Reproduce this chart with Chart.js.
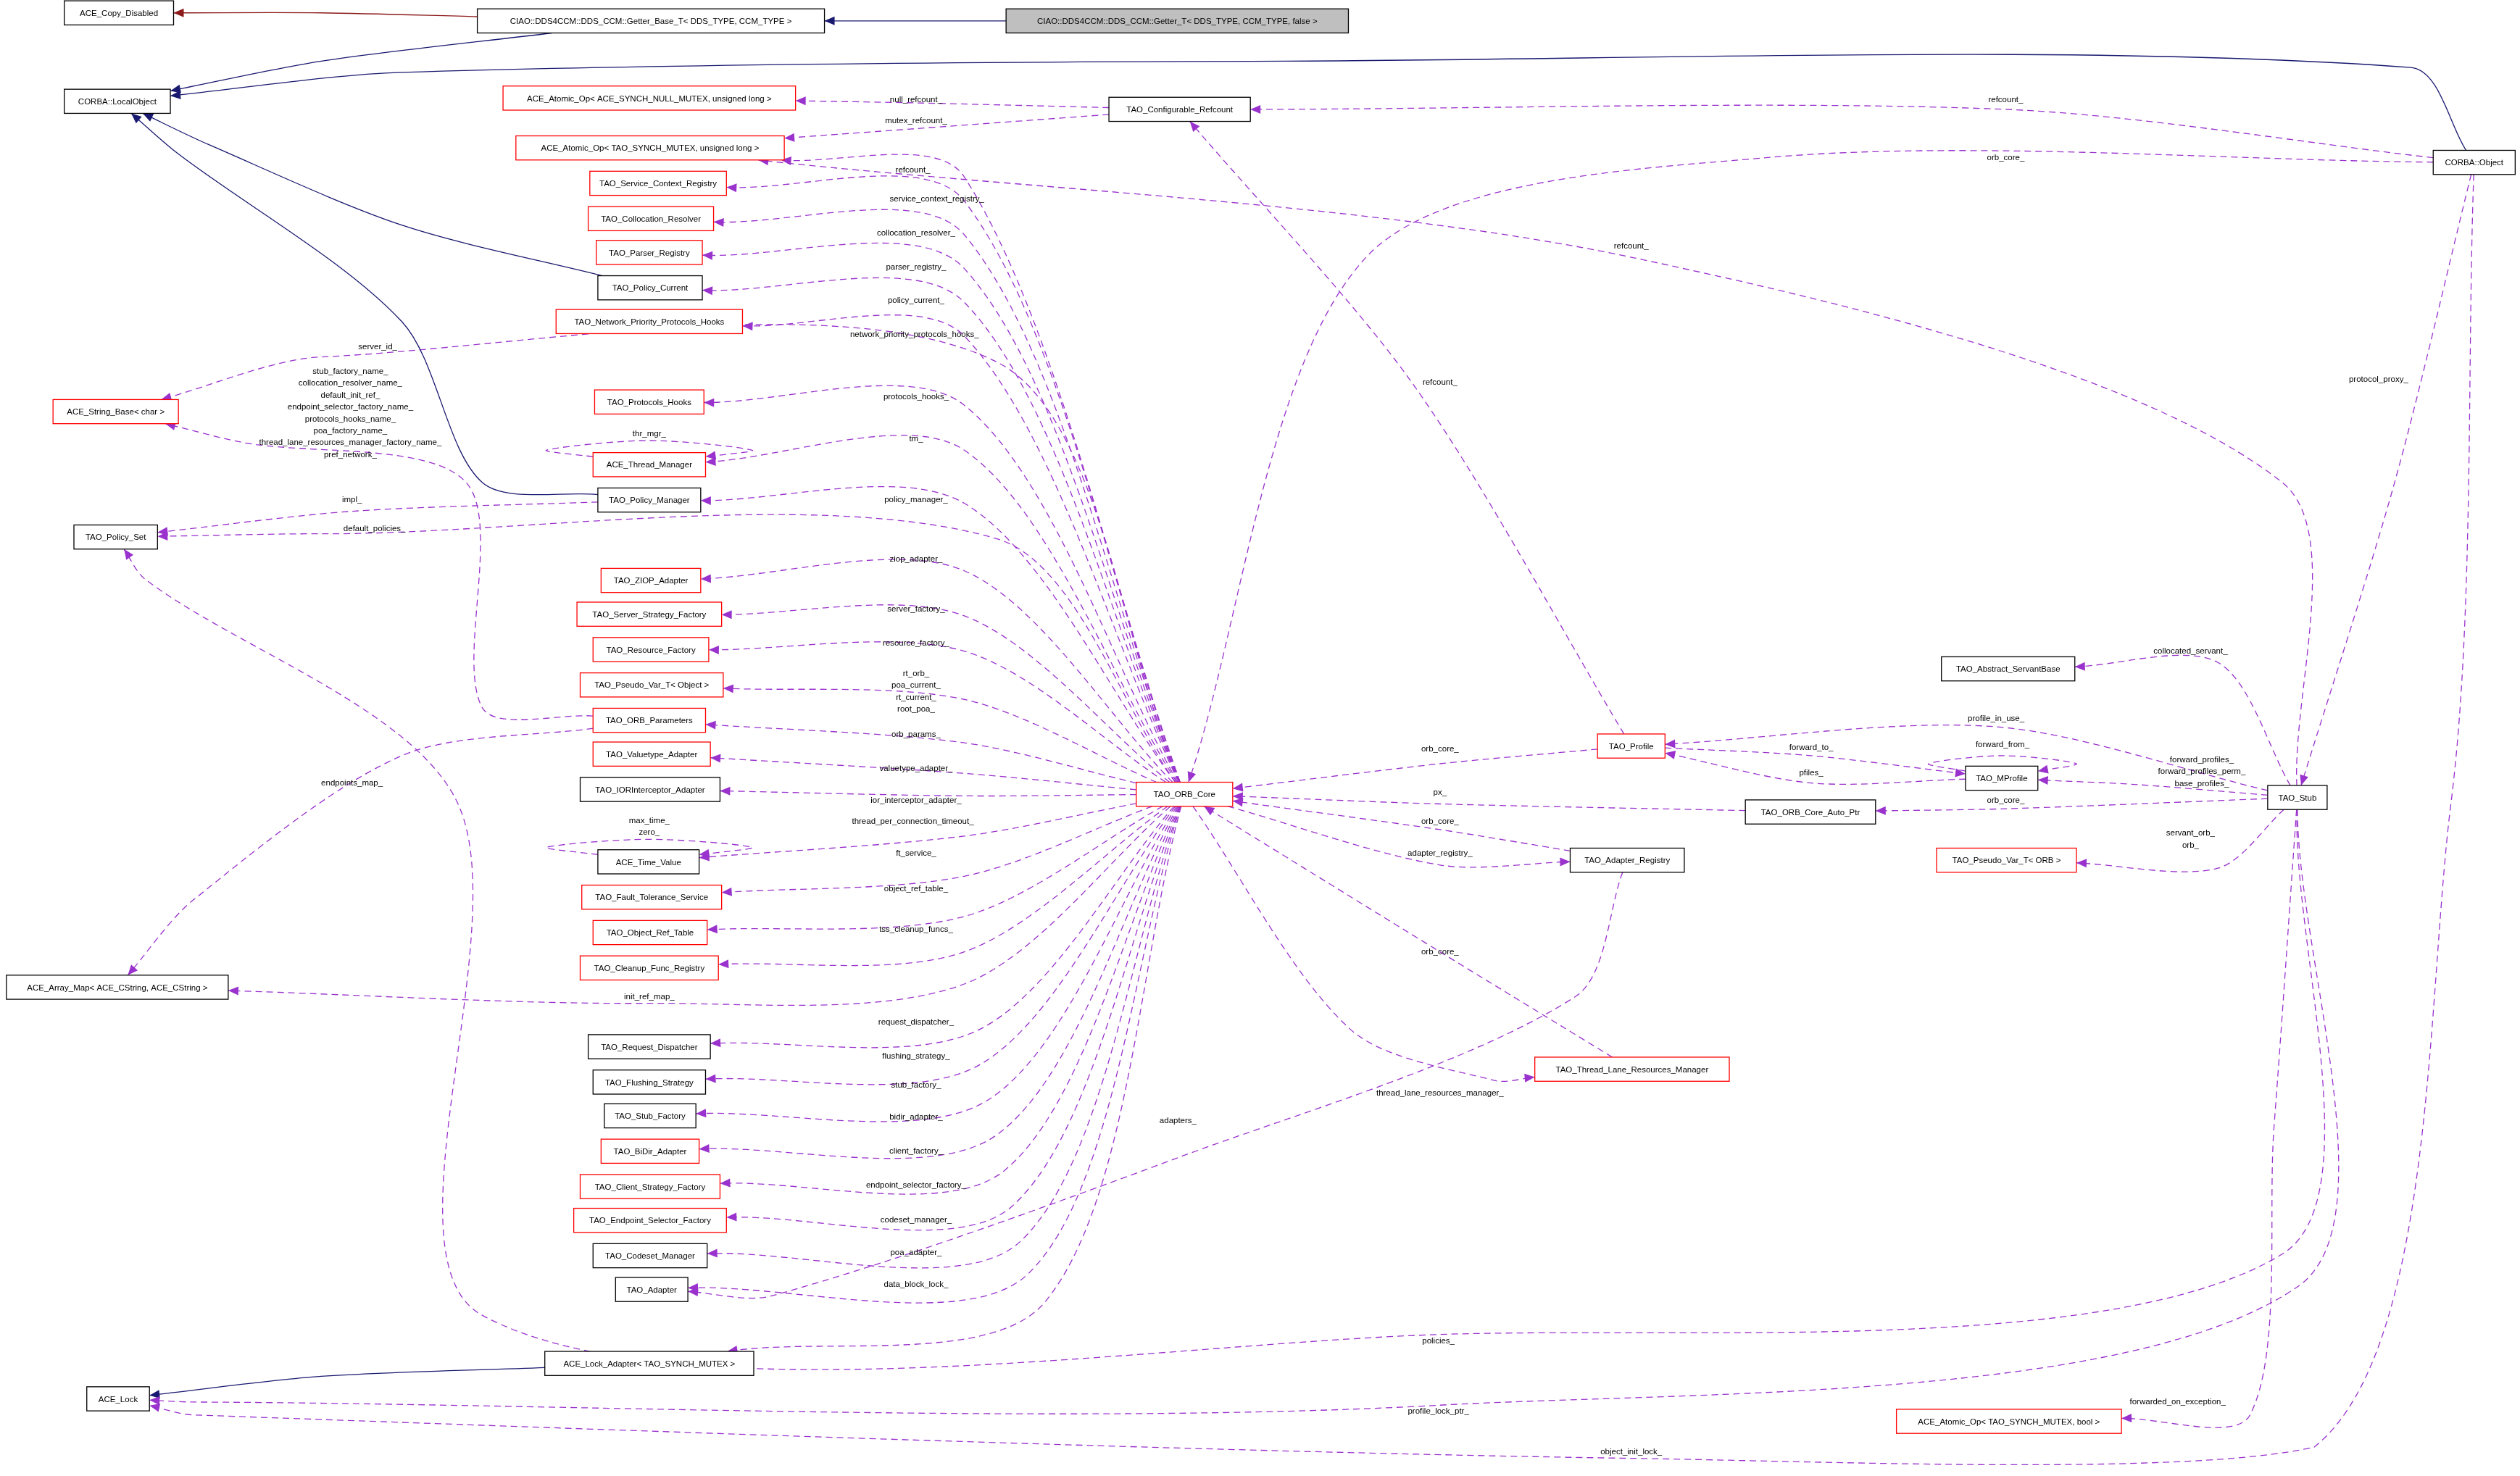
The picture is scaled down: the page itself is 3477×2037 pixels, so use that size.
<!DOCTYPE html>
<html><head><meta charset="utf-8">
<script src="https://cdn.jsdelivr.net/npm/chart.js@4"></script>
<style>html,body{margin:0;padding:0;background:#fff}canvas{display:block}</style>
</head><body>
<canvas id="c" width="3477" height="2037" style="width:3477px;height:2037px"></canvas>
<script>
// ---- nodes ----
const nodeNames = ["ACE_Copy_Disabled","CIAO::DDS4CCM::DDS_CCM::Getter_Base_T< DDS_TYPE, CCM_TYPE >","CIAO::DDS4CCM::DDS_CCM::Getter_T< DDS_TYPE, CCM_TYPE, false >","CORBA::LocalObject","ACE_Atomic_Op< ACE_SYNCH_NULL_MUTEX, unsigned long >","TAO_Configurable_Refcount","ACE_Atomic_Op< TAO_SYNCH_MUTEX, unsigned long >","CORBA::Object","TAO_Service_Context_Registry","TAO_Collocation_Resolver","TAO_Parser_Registry","TAO_Policy_Current","TAO_Network_Priority_Protocols_Hooks","ACE_String_Base< char >","TAO_Protocols_Hooks","ACE_Thread_Manager","TAO_Policy_Manager","TAO_Policy_Set","TAO_ZIOP_Adapter","TAO_Server_Strategy_Factory","TAO_Resource_Factory","TAO_Pseudo_Var_T< Object >","TAO_ORB_Parameters","TAO_Valuetype_Adapter","TAO_IORInterceptor_Adapter","ACE_Time_Value","TAO_Fault_Tolerance_Service","TAO_Object_Ref_Table","TAO_Cleanup_Func_Registry","ACE_Array_Map< ACE_CString, ACE_CString >","TAO_Request_Dispatcher","TAO_Flushing_Strategy","TAO_Stub_Factory","TAO_BiDir_Adapter","TAO_Client_Strategy_Factory","TAO_Endpoint_Selector_Factory","TAO_Codeset_Manager","TAO_Adapter","ACE_Lock","ACE_Lock_Adapter< TAO_SYNCH_MUTEX >","TAO_ORB_Core","TAO_Profile","TAO_MProfile","TAO_Abstract_ServantBase","TAO_Stub","TAO_ORB_Core_Auto_Ptr","TAO_Adapter_Registry","TAO_Pseudo_Var_T< ORB >","TAO_Thread_Lane_Resources_Manager","ACE_Atomic_Op< TAO_SYNCH_MUTEX, bool >"];
const nodeX = [74,405,732.5,73,404,734,404.5,1539.5,409.5,405,404,404.5,404,72,404,404,404,72,405,404,405,405.5,404,405.5,404.5,403.5,405.5,404.5,404,73,404,404,404.5,404.5,404.5,404.5,404.5,405.5,73.5,404,737,1015,1245.5,1249.5,1429.5,1126.5,1012.5,1248.5,1015.5,1250];
const nodeY = [8,13,13,63,61,68,92,101,114,136,157,179,200,256,250,289,311,334,361,382,404,426,448,469,491,536,558,580,602,614,651,673,694,716,738,759,781,802,870,848,494,464,484,416,496,505,535,535,665,884];
const nodeW = [68,216,213,66,182,88,167,51,85,78,66,65,116,78,68,70,64,52,62,90,72,89,70,73,87,63,87,71,86,138,76,70,57,61,87,95,71,45,39,130,60,42,45,83,37,81,71,87,121,140];
const nodeStyle = ["k","k","g","k","r","k","r","k","r","r","r","k","r","r","r","r","k","k","r","r","r","r","r","r","k","k","r","r","r","k","k","k","k","r","r","r","k","k","k","k","r","r","k","k","k","k","k","r","r","r"];

// ---- edges ----  kind: i=inheritance(navy), p=protected(dark red), u=usage(dashed)
const edgeFrom = [], edgeTo = [], edgeKind = [], edgeLabel = [], edgeLX = [], edgeLY = [], edgePath = [];
function E(f,t,k,l,lx,ly,path){edgeFrom.push(f);edgeTo.push(t);edgeKind.push(k);edgeLabel.push(l);edgeLX.push(lx);edgeLY.push(ly);edgePath.push(path);}
const O="TAO_ORB_Core";
E("CIAO::DDS4CCM::DDS_CCM::Getter_T< DDS_TYPE, CCM_TYPE, false >","CIAO::DDS4CCM::DDS_CCM::Getter_Base_T< DDS_TYPE, CCM_TYPE >","i","",0,0,[[570,13]]);
E("CIAO::DDS4CCM::DDS_CCM::Getter_Base_T< DDS_TYPE, CCM_TYPE >","ACE_Copy_Disabled","p","",0,0,[[200,8]]);
E("CIAO::DDS4CCM::DDS_CCM::Getter_Base_T< DDS_TYPE, CCM_TYPE >","CORBA::LocalObject","i","",0,0,[[200,38]]);
E("CORBA::Object","CORBA::LocalObject","i","",0,0,[[1500,42],[800,38],[250,45]]);
E("TAO_Policy_Current","CORBA::LocalObject","i","",0,0,[[250,140],[130,90]]);
E("TAO_Policy_Manager","CORBA::LocalObject","i","",0,0,[[300,300],[250,200],[110,95]]);
E("ACE_Lock_Adapter< TAO_SYNCH_MUTEX >","ACE_Lock","i","",0,0,[[200,856]]);
E("TAO_Configurable_Refcount","ACE_Atomic_Op< ACE_SYNCH_NULL_MUTEX, unsigned long >","u","null_refcount_",570,62,[[570,64]]);
E("TAO_Configurable_Refcount","ACE_Atomic_Op< TAO_SYNCH_MUTEX, unsigned long >","u","mutex_refcount_",570,75,[[570,80]]);
E("CORBA::Object","TAO_Configurable_Refcount","u","refcount_",1248,62,[[1248,68]]);
E("CORBA::Object","TAO_ORB_Core","u","orb_core_",1248,98,[[1100,98],[850,160]]);
E("TAO_Stub","ACE_Atomic_Op< TAO_SYNCH_MUTEX, unsigned long >","u","refcount_",1015,153,[[1420,300],[1015,160]]);
E("TAO_Profile","TAO_Configurable_Refcount","u","refcount_",896,238,[[880,240]]);
E(O,"ACE_Atomic_Op< TAO_SYNCH_MUTEX, unsigned long >","u","refcount_",568,106,[[600,110]]);
E(O,"TAO_Service_Context_Registry","u","service_context_registry_",583,124,[[600,125]]);
E(O,"TAO_Collocation_Resolver","u","collocation_resolver_",570,145,[[600,146]]);
E(O,"TAO_Parser_Registry","u","parser_registry_",570,166,[[600,167]]);
E(O,"TAO_Policy_Current","u","policy_current_",570,187,[[600,188]]);
E(O,"TAO_Network_Priority_Protocols_Hooks","u","network_priority_protocols_hooks_",569,208,[[600,209]]);
E(O,"ACE_String_Base< char >","u","server_id_",235,216,[[620,225],[200,222]]);
E(O,"TAO_Protocols_Hooks","u","protocols_hooks_",570,247,[[600,252]]);
E(O,"ACE_Thread_Manager","u","tm_",570,273,[[600,280]]);
E(O,"TAO_Policy_Manager","u","policy_manager_",570,311,[[600,313]]);
E(O,"TAO_Policy_Set","u","default_policies_",233,329,[[620,335],[200,332]]);
E(O,"TAO_ZIOP_Adapter","u","ziop_adapter_",570,348,[[600,355]]);
E(O,"TAO_Server_Strategy_Factory","u","server_factory_",570,379,[[600,383]]);
E(O,"TAO_Resource_Factory","u","resource_factory_",570,400,[[600,405]]);
E(O,"TAO_Pseudo_Var_T< Object >","u","rt_orb_\npoa_current_\nrt_current_\nroot_poa_",570,430,[[600,435]]);
E(O,"TAO_ORB_Parameters","u","orb_params_",570,457,[[600,462]]);
E(O,"TAO_Valuetype_Adapter","u","valuetype_adapter_",570,478,[[600,481]]);
E(O,"TAO_IORInterceptor_Adapter","u","ior_interceptor_adapter_",570,498,[[600,495]]);
E(O,"ACE_Time_Value","u","thread_per_connection_timeout_",568,511,[[600,520]]);
E(O,"TAO_Fault_Tolerance_Service","u","ft_service_",570,531,[[600,545]]);
E(O,"TAO_Object_Ref_Table","u","object_ref_table_",570,553,[[600,570]]);
E(O,"TAO_Cleanup_Func_Registry","u","tss_cleanup_funcs_",570,578,[[600,592]]);
E(O,"ACE_Array_Map< ACE_CString, ACE_CString >","u","init_ref_map_",404,620,[[600,612],[404,624]]);
E(O,"TAO_Request_Dispatcher","u","request_dispatcher_",570,636,[[610,640]]);
E(O,"TAO_Flushing_Strategy","u","flushing_strategy_",570,657,[[610,662]]);
E(O,"TAO_Stub_Factory","u","stub_factory_",570,675,[[615,684]]);
E(O,"TAO_BiDir_Adapter","u","bidir_adapter_",570,695,[[620,706]]);
E(O,"TAO_Client_Strategy_Factory","u","client_factory_",570,716,[[625,728]]);
E(O,"TAO_Endpoint_Selector_Factory","u","endpoint_selector_factory_",570,737,[[630,750]]);
E(O,"TAO_Codeset_Manager","u","codeset_manager_",570,759,[[635,772]]);
E(O,"TAO_Adapter","u","poa_adapter_",570,779,[[640,792]]);
E(O,"ACE_Lock_Adapter< TAO_SYNCH_MUTEX >","u","data_block_lock_",570,799,[[650,810]]);
E("TAO_ORB_Parameters","ACE_String_Base< char >","u","stub_factory_name_\ncollocation_resolver_name_\ndefault_init_ref_\nendpoint_selector_factory_name_\nprotocols_hooks_name_\npoa_factory_name_\nthread_lane_resources_manager_factory_name_\npref_network_",218,257,[[300,440],[290,300],[150,275]]);
E("TAO_ORB_Parameters","ACE_Array_Map< ACE_CString, ACE_CString >","u","endpoints_map_",219,487,[[250,470],[120,560]]);
E("ACE_Thread_Manager","ACE_Thread_Manager","u","thr_mgr_",404,270,[[340,280],[404,274],[468,280]]);
E("ACE_Time_Value","ACE_Time_Value","u","max_time_\nzero_",404,514,[[340,527],[404,522],[468,527]]);
E("TAO_MProfile","TAO_MProfile","u","forward_from_",1246,463,[[1200,475],[1246,470],[1292,475]]);
E("TAO_Policy_Manager","TAO_Policy_Set","u","impl_",219,311,[[219,318]]);
E("TAO_Profile",O,"u","orb_core_",896,466,[[896,475]]);
E("TAO_Profile","TAO_MProfile","u","forward_to_",1127,465,[[1127,470]]);
E("TAO_MProfile","TAO_Profile","u","pfiles_",1127,481,[[1127,487]]);
E("TAO_Stub","TAO_Profile","u","profile_in_use_",1242,447,[[1242,452]]);
E("TAO_Stub","TAO_MProfile","u","forward_profiles_\nforward_profiles_perm_\nbase_profiles_",1370,480,[[1330,488]]);
E("TAO_Stub","TAO_ORB_Core_Auto_Ptr","u","orb_core_",1248,498,[[1248,503]]);
E("TAO_ORB_Core_Auto_Ptr",O,"u","px_",896,493,[[896,500]]);
E("TAO_Adapter_Registry",O,"u","orb_core_",896,511,[[896,516]]);
E(O,"TAO_Adapter_Registry","u","adapter_registry_",896,531,[[896,538]]);
E("TAO_Stub","TAO_Abstract_ServantBase","u","collocated_servant_",1363,405,[[1380,412]]);
E("TAO_Stub","TAO_Pseudo_Var_T< ORB >","u","servant_orb_\norb_",1363,522,[[1380,540]]);
E("TAO_Thread_Lane_Resources_Manager",O,"u","orb_core_",896,592,[[896,592]]);
E(O,"TAO_Thread_Lane_Resources_Manager","u","thread_lane_resources_manager_",896,680,[[840,640],[930,672]]);
E("TAO_Adapter_Registry","TAO_Adapter","u","adapters_",733,697,[[980,620],[733,720],[480,806]]);
E("TAO_Stub","TAO_Policy_Set","u","policies_",895,834,[[1420,780],[895,830],[300,818],[285,500],[90,360]]);
E("TAO_Stub","ACE_Lock","u","profile_lock_ptr_",895,878,[[1430,800],[895,874],[120,872]]);
E("CORBA::Object","ACE_Lock","u","object_init_lock_",1015,903,[[1525,500],[1440,900],[1015,907],[120,880]]);
E("TAO_Stub","ACE_Atomic_Op< TAO_SYNCH_MUTEX, bool >","u","forwarded_on_exception_",1355,872,[[1415,700],[1400,880]]);
E("CORBA::Object","TAO_Stub","u","protocol_proxy_",1480,236,[[1490,300]]);

// ---- geometry helpers (derive anchors from node data) ----
const H = 15;
const idx = n => { const i = nodeNames.indexOf(n); if (i < 0) throw new Error("no node " + n); return i; };
function clip(i, px, py) {
  const cx = nodeX[i], cy = nodeY[i], hw = nodeW[i] / 2, hh = H / 2;
  const dx = px - cx, dy = py - cy;
  if (dx === 0 && dy === 0) return {x: cx, y: cy};
  const t = Math.min(dx ? hw / Math.abs(dx) : 1e9, dy ? hh / Math.abs(dy) : 1e9);
  return {x: cx + dx * t, y: cy + dy * t};
}
const COL = {i: "#191970", p: "#8b1a1a", u: "#9a32cd"};
const datasets = [];
edgeFrom.forEach((f, k) => {
  const a = idx(f), b = idx(edgeTo[k]);
  const path = edgePath[k];
  const first = path[0], last = path[path.length - 1];
  const pts = [clip(a, first[0], first[1])].concat(path.map(p => ({x: p[0], y: p[1]}))).concat([clip(b, last[0], last[1])]);
  datasets.push({data: pts, showLine: true, borderColor: COL[edgeKind[k]], borderWidth: 1.3,
    borderDash: edgeKind[k] === "u" ? [9, 6] : [], pointRadius: 0, tension: 0.3, fill: false});
});
const FONT = '11.5px "Liberation Sans", Arial, sans-serif';
const drawPlugin = {
  id: "graph",
  afterDatasetsDraw(chart) {
    const ctx = chart.ctx, xs = chart.scales.x, ys = chart.scales.y;
    const X = v => xs.getPixelForValue(v), Y = v => ys.getPixelForValue(v);
    ctx.save();
    chart.data.datasets.forEach(ds => {
      const d = ds.data, p1 = d[d.length - 2], p2 = d[d.length - 1];
      const x1 = X(p1.x), y1 = Y(p1.y), x2 = X(p2.x), y2 = Y(p2.y);
      const ang = Math.atan2(y2 - y1, x2 - x1), L = 14, W = 6;
      ctx.fillStyle = ds.borderColor;
      ctx.beginPath();
      ctx.moveTo(x2, y2);
      ctx.lineTo(x2 - L * Math.cos(ang) + W * Math.sin(ang), y2 - L * Math.sin(ang) - W * Math.cos(ang));
      ctx.lineTo(x2 - L * Math.cos(ang) - W * Math.sin(ang), y2 - L * Math.sin(ang) + W * Math.cos(ang));
      ctx.closePath(); ctx.fill();
    });
    ctx.font = FONT; ctx.textAlign = "center"; ctx.textBaseline = "middle";
    nodeNames.forEach((n, i) => {
      const l = X(nodeX[i] - nodeW[i] / 2), r = X(nodeX[i] + nodeW[i] / 2);
      const t = Y(nodeY[i] - H / 2), b = Y(nodeY[i] + H / 2);
      ctx.fillStyle = nodeStyle[i] === "g" ? "#bfbfbf" : "#ffffff";
      ctx.fillRect(l, t, r - l, b - t);
      ctx.strokeStyle = nodeStyle[i] === "r" ? "#ff0000" : "#000000";
      ctx.lineWidth = 1.3;
      ctx.strokeRect(l, t, r - l, b - t);
      ctx.fillStyle = "#000";
      ctx.fillText(n, X(nodeX[i]), Y(nodeY[i]) + 1);
    });
    edgeLabel.forEach((lab, k) => {
      if (!lab) return;
      const lines = lab.split("\n"), lh = 7.4;
      lines.forEach((s, j) => {
        ctx.fillText(s, X(edgeLX[k]), Y(edgeLY[k] - (lines.length - 1) * lh / 2 + j * lh));
      });
    });
    ctx.restore();
  }
};
new Chart(document.getElementById("c"), {
  type: "scatter",
  data: {datasets},
  options: {
    responsive: false, animation: false, devicePixelRatio: 1,
    layout: {padding: 0},
    plugins: {legend: {display: false}, tooltip: {enabled: false}},
    scales: {
      x: {type: "linear", min: 0, max: 1568, display: false},
      y: {type: "linear", min: 0, max: 918, reverse: true, display: false}
    }
  },
  plugins: [drawPlugin]
});
</script>
</body></html>
